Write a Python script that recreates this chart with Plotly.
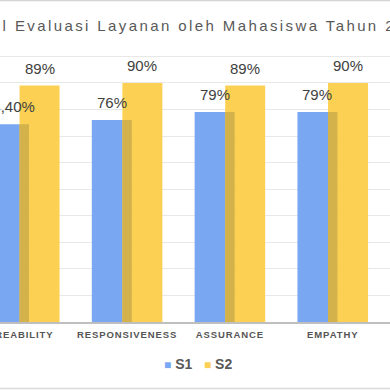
import numpy as np
import plotly.graph_objects as go

# ---- data ----
categories = ["REABILITY", "RESPONSIVENESS", "ASSURANCE", "EMPATHY"]
s1_values = [74.4, 76, 79, 79]
s2_values = [89, 90, 89, 90]
series_names = ["S1", "S2"]
title_text = "Hasil Evaluasi Layanan oleh Mahasiswa Tahun 2023"


def fmt(v):
    if float(v).is_integer():
        return f"{int(v)}%"
    return f"{v:.2f}".replace(".", ",") + "%"


x = np.arange(len(categories))
overlap_values = np.minimum(s1_values, s2_values)

BLUE = "#7AA7F2"
YELLOW = "rgba(252,206,70,0.93)"
YELLOW_SOLID = "#FCD054"
TAN = "#D3B24C"

W = 0.389
OFF1 = -0.343
OFF2 = -0.0457

fig = go.Figure()
fig.add_trace(go.Bar(x=x, y=s1_values, name=series_names[0], marker_color=BLUE,
                     width=W, offset=OFF1, marker_line_width=0, hoverinfo="skip"))
fig.add_trace(go.Bar(x=x, y=s2_values, name=series_names[1], marker_color=YELLOW,
                     width=W, offset=OFF2, marker_line_width=0, hoverinfo="skip"))
fig.add_trace(go.Bar(x=x, y=overlap_values, showlegend=False, marker_color=TAN,
                     width=(OFF1 + W) - OFF2, offset=OFF2, marker_line_width=0,
                     hoverinfo="skip"))

# plot geometry helpers (pixels)
Y_MAX = 102
BASE_PX = 322
PLOT_H = 265.5 * Y_MAX / 100
TOP = BASE_PX - PLOT_H


def py(p):
    return (BASE_PX - p) / PLOT_H


annotations = [dict(
    text=title_text, xref="paper", yref="paper", x=-39.0 / 390, y=py(26),
    xanchor="left", yanchor="middle", align="left", showarrow=False,
    font=dict(family="Liberation Sans, Arial", size=15, color="#595959"))]

label_font = dict(family="Liberation Sans, Arial", size=15, color="#404040")
for i in range(len(categories)):
    annotations.append(dict(x=x[i] + OFF1 + W / 2, y=s1_values[i], text=fmt(s1_values[i]),
                            xref="x", yref="y", showarrow=False, yanchor="bottom",
                            yshift=7, font=label_font))
    annotations.append(dict(x=x[i] + OFF2 + W / 2, y=s2_values[i], text=fmt(s2_values[i]),
                            xref="x", yref="y", showarrow=False, yanchor="bottom",
                            yshift=7, font=label_font))

# legend (compact, Excel-like)
legend_text = (f'<span style="color:{BLUE};font-size:12px">■</span> <b>{series_names[0]}</b>'
               f'   <span style="color:{YELLOW_SOLID};font-size:12px">■</span> <b>{series_names[1]}</b>')
annotations.append(dict(text=legend_text, xref="paper", yref="paper", x=197.5 / 390,
                        y=py(364), xanchor="center", yanchor="middle", showarrow=False,
                        font=dict(family="Liberation Sans, Arial", size=14, color="#595959")))

shapes = [
    dict(type="line", xref="paper", yref="paper", x0=0, x1=1, y0=py(0.75), y1=py(0.75),
         line=dict(color="#D4D4D4", width=1.5)),
    dict(type="line", xref="paper", yref="paper", x0=0, x1=1, y0=py(388.5), y1=py(388.5),
         line=dict(color="#D9D9D9", width=1.5)),
]

fig.update_layout(
    width=390, height=390,
    margin=dict(l=0, r=0, t=TOP, b=390 - BASE_PX, pad=0, autoexpand=False),
    barmode="overlay",
    paper_bgcolor="white", plot_bgcolor="white",
    showlegend=False,
    annotations=annotations,
    shapes=shapes,
    xaxis=dict(range=[-0.236, 3.557], tickmode="array", tickvals=x, ticktext=categories,
               showgrid=False, zeroline=False, showline=True, linecolor="#BFBFBF",
               linewidth=1.5, ticks="", automargin=False, ticklabeloverflow="allow",
               ticklabelstandoff=3,
               tickfont=dict(family="Liberation Sans, Arial", size=9.5, color="#555555",
                             weight="bold")),
    yaxis=dict(range=[0, Y_MAX], dtick=10, showticklabels=False, showgrid=True,
               gridcolor="#E8E8E8", gridwidth=1, zeroline=False, showline=False,
               automargin=False),
)

post = """
document.body.style.margin = '0';
var gd = document.getElementById('{plot_id}');
function sp(){
  gd.querySelectorAll('g.annotation[data-index="0"] text').forEach(function(t){t.style.letterSpacing='2.4px';});
  gd.querySelectorAll('.xtick text').forEach(function(t){t.style.letterSpacing='0.9px';});
}
sp();
gd.on('plotly_afterplot', sp);
"""

fig.write_html("out.html", post_script=post, config={"displayModeBar": False})
